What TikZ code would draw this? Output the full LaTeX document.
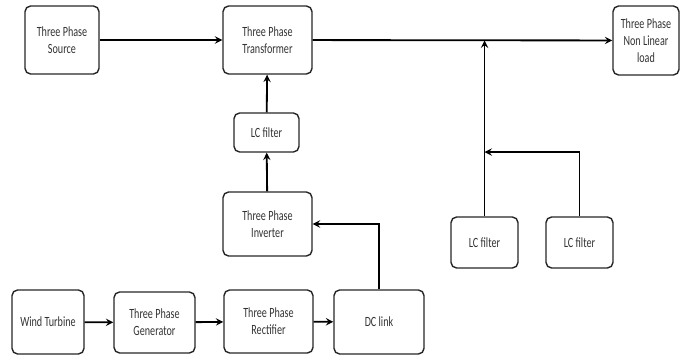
\documentclass[tikz,border=0pt]{standalone}
\usepackage{fontspec}
\setmainfont{Carlito}[FakeStretch=0.72]
\usepackage{tikz}
\usetikzlibrary{arrows}

\begin{document}
\begin{tikzpicture}[>=stealth, x=0.025cm, y=-0.025cm,
	blk/.style={draw=black!85, line width=1pt, rounded corners=4pt, align=center, inner sep=0pt, text=black!80, font=\fontsize{10}{12}\selectfont},
	con/.style={->, line width=1.3pt}]
			\useasboundingbox (0,0) rectangle (680,356);
			\node [blk, minimum width=1.85cm, minimum height=1.7cm] (src) at (62,40) {Three Phase\\Source};
			\node [blk, minimum width=2.225cm, minimum height=1.7cm] (trf) at (267.5,40) {Three Phase\\Transformer};
			\node [blk, minimum width=1.65cm, minimum height=1.725cm] (load) at (646,40.5) {Three Phase\\Non Linear\\load};
			\node [blk, minimum width=1.625cm, minimum height=0.975cm] (lcm) at (266.5,132.5) {LC filter};
			\node [blk, minimum width=2.225cm, minimum height=1.6cm] (inv) at (267.5,224) {Three Phase\\Inverter};
			\node [blk, minimum width=1.675cm, minimum height=1.275cm] (lca) at (484.5,242.5) {LC filter};
			\node [blk, minimum width=1.675cm, minimum height=1.275cm] (lcb) at (579.5,242.5) {LC filter};
			\node [blk, minimum width=1.8cm, minimum height=1.6cm] (wt) at (48,322) {Wind Turbine};
			\node [blk, minimum width=2.025cm, minimum height=1.525cm] (gen) at (154.5,322.5) {Three Phase\\Generator};
			\node [blk, minimum width=2.225cm, minimum height=1.575cm] (rec) at (268.5,321.5) {Three Phase\\Rectifier};
			\node [blk, minimum width=2.25cm, minimum height=1.6cm] (dc) at (379,322) {DC link};
			\coordinate (tap) at (484.5,152);
			\draw [con] (src) -- (trf);
			\draw [con] (trf) -- (load);
			\draw [con] (lca.north) -- (lca.north |- load.west);
			\draw [con] (lcb.north) |- (tap);
			\draw [con] (lcm) -- (trf);
			\draw [con] (inv) -- (lcm);
			\draw [con] (dc.north) |- (inv.east);
			\draw [con] (wt) -- (gen);
			\draw [con] (gen) -- (rec);
			\draw [con] (rec) -- (dc);
			\end{tikzpicture}
\end{document}
